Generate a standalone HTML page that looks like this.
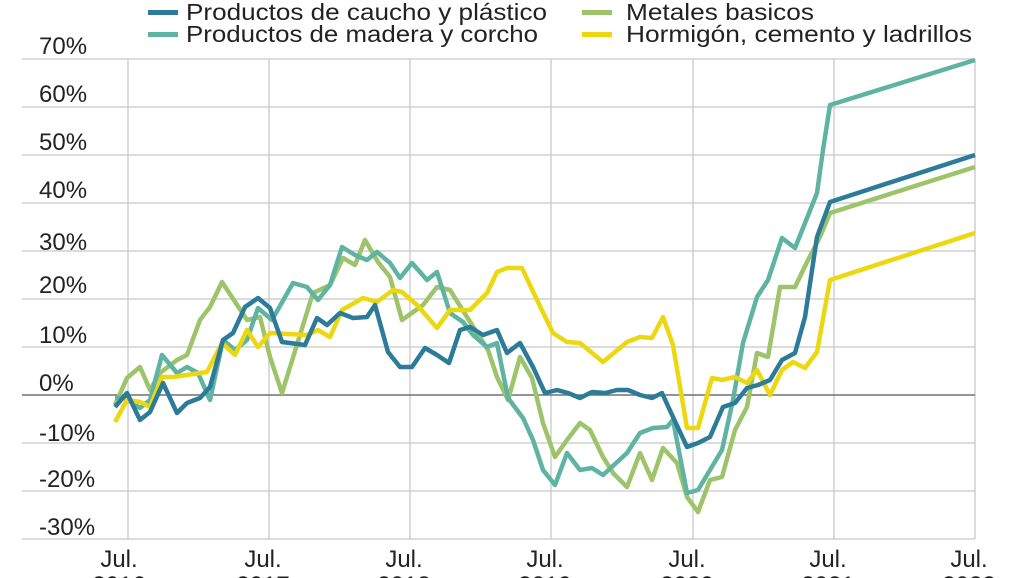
<!DOCTYPE html>
<html><head><meta charset="utf-8"><style>
html,body{margin:0;padding:0;background:#fff;}
svg{display:block;font-family:"Liberation Sans",sans-serif;}
</style></head><body>
<svg width="1028" height="578" viewBox="0 0 1028 578" xmlns="http://www.w3.org/2000/svg">
<g stroke="#c8c8c8" stroke-width="1.3">
<line x1="22" y1="59" x2="975" y2="59"/><line x1="22" y1="107" x2="975" y2="107"/>
<line x1="22" y1="155" x2="975" y2="155"/><line x1="22" y1="203" x2="975" y2="203"/>
<line x1="22" y1="251" x2="975" y2="251"/><line x1="22" y1="299" x2="975" y2="299"/>
<line x1="22" y1="347" x2="975" y2="347"/><line x1="22" y1="443" x2="975" y2="443"/>
<line x1="22" y1="491" x2="975" y2="491"/><line x1="22" y1="539" x2="975" y2="539"/>
<line x1="128" y1="59" x2="128" y2="539"/><line x1="269" y1="59" x2="269" y2="539"/>
<line x1="410" y1="59" x2="410" y2="539"/><line x1="551" y1="59" x2="551" y2="539"/>
<line x1="693" y1="59" x2="693" y2="539"/><line x1="834" y1="59" x2="834" y2="539"/>
<line x1="975" y1="59" x2="975" y2="539"/>
</g>
<line x1="22" y1="395" x2="975" y2="395" stroke="#707070" stroke-width="1.6"/>
<g font-size="24" fill="#222">
<text x="39" y="54">70%</text><text x="39" y="102">60%</text><text x="39" y="150">50%</text>
<text x="39" y="198">40%</text><text x="39" y="250">30%</text><text x="39" y="293">20%</text>
<text x="39" y="343">10%</text><text x="39" y="391">0%</text><text x="39" y="441">-10%</text>
<text x="39" y="487">-20%</text><text x="39" y="535">-30%</text>
</g>
<g font-size="24" fill="#222" text-anchor="middle">
<text x="119" y="567">Jul.</text><text x="119" y="593">2016</text>
<text x="263" y="567">Jul.</text><text x="263" y="593">2017</text>
<text x="404" y="567">Jul.</text><text x="404" y="593">2018</text>
<text x="545" y="567">Jul.</text><text x="545" y="593">2019</text>
<text x="687" y="567">Jul.</text><text x="687" y="593">2020</text>
<text x="828" y="567">Jul.</text><text x="828" y="593">2021</text>
<text x="969" y="567">Jul.</text><text x="969" y="593">2022</text>
</g>
<g fill="none" stroke-width="4.5" stroke-linejoin="round">
<polyline stroke="#9dc46a" points="115,405 127,378 140,367 150,390 160,373 177,360 187,355 200,320 210,307 222,282 247,320 260,317 270,357 282,393 313,293 330,285 343,258 355,265 365,240 378,262 390,277 402,320 423,305 437,287 450,290 467,317 488,350 497,377 508,400 520,357 532,378 543,423 555,457 567,440 580,423 590,430 603,457 613,473 627,487 640,453 652,480 663,448 677,463 687,497 698,512 710,480 722,477 735,430 747,407 757,353 768,357 780,287 795,287 808,260 820,237 830,213 975,167"/>
<polyline stroke="#5fb3a3" points="115,398 125,398 140,408 150,400 162,355 177,373 187,367 198,373 210,400 223,340 235,350 247,340 258,308 272,320 293,283 307,287 318,300 330,285 342,247 355,255 367,260 377,252 390,263 400,278 412,263 427,280 437,272 450,313 463,322 473,335 487,347 497,343 508,398 523,418 533,440 543,470 555,485 567,453 580,470 592,468 603,475 627,453 640,433 653,428 667,427 673,420 687,493 698,490 722,450 733,400 743,343 757,297 768,280 782,238 795,248 817,193 823,150 830,105 975,60"/>
<polyline stroke="#ecd810" points="115,422 127,400 140,402 150,407 162,377 173,377 207,372 222,343 235,355 247,330 258,347 270,333 307,335 318,330 330,337 342,310 363,298 377,302 393,290 402,292 417,305 437,328 450,310 470,310 487,293 497,272 507,268 522,268 537,300 553,333 567,342 580,343 603,362 627,342 640,337 652,338 663,317 673,345 687,428 698,428 712,378 722,380 735,377 747,383 757,370 770,395 782,370 793,362 805,368 817,352 830,280 975,233"/>
<polyline stroke="#2c7b98" points="115,407 127,393 140,420 150,412 163,383 177,413 187,403 200,398 210,387 223,340 233,333 245,307 258,298 270,308 282,342 305,345 317,318 327,325 340,313 353,318 367,317 375,305 388,352 400,367 412,367 425,348 437,355 449,363 460,330 470,327 483,335 497,330 507,353 520,343 533,367 545,393 557,390 568,393 580,398 592,392 605,393 617,390 628,390 640,395 652,398 662,393 673,417 687,447 698,443 710,437 723,407 735,403 747,388 758,385 770,380 782,360 795,353 805,317 817,237 830,202 975,155"/>
</g>
<g font-size="23" fill="#222">
<rect x="148" y="10" width="30" height="5" fill="#2c7b98"/><text x="186" y="20" textLength="361" lengthAdjust="spacingAndGlyphs">Productos de caucho y plástico</text>
<rect x="148" y="32" width="30" height="5" fill="#5fb3a3"/><text x="186" y="42" textLength="352" lengthAdjust="spacingAndGlyphs">Productos de madera y corcho</text>
<rect x="582" y="10" width="30" height="5" fill="#9dc46a"/><text x="626" y="20" textLength="188" lengthAdjust="spacingAndGlyphs">Metales basicos</text>
<rect x="582" y="32" width="30" height="5" fill="#ecd810"/><text x="626" y="42" textLength="346" lengthAdjust="spacingAndGlyphs">Hormigón, cemento y ladrillos</text>
</g>
</svg>
</body></html>
